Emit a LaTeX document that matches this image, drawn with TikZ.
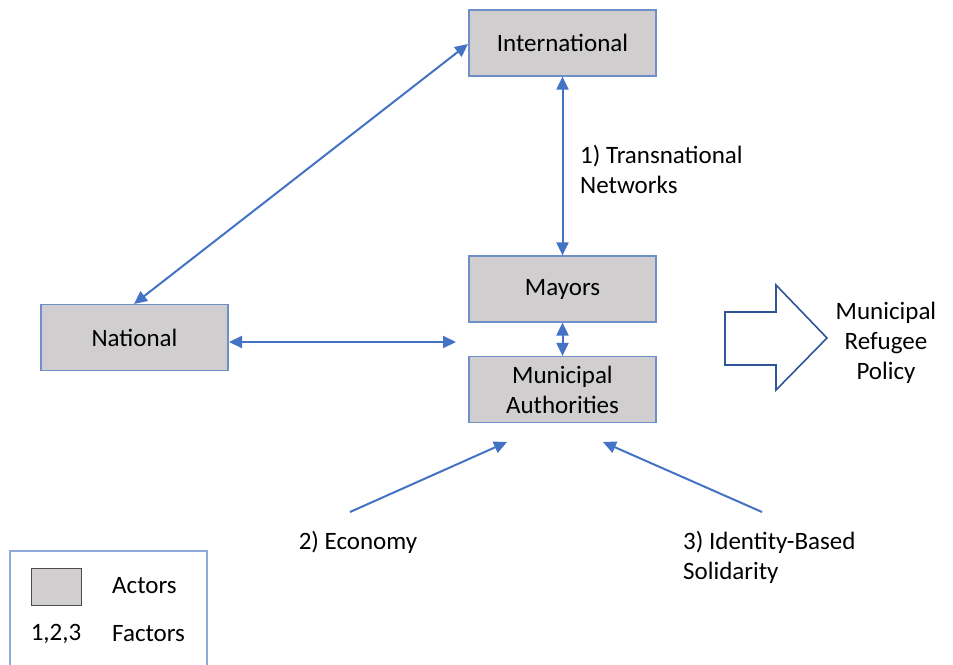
\documentclass[tikz,border=0pt]{standalone}
\usepackage{fontspec}
\setmainfont{Carlito}
\usetikzlibrary{arrows.meta}
\definecolor{arr}{HTML}{4472C4}
\definecolor{boxfill}{HTML}{D0CECE}
\definecolor{boxline}{HTML}{6F8FC9}
\definecolor{bigarr}{HTML}{2F5597}
\definecolor{legline}{HTML}{8FAADC}
\begin{document}
\begin{tikzpicture}[x=1pt,y=-1pt,
  actor/.style={draw=boxline,fill=boxfill,line width=1.2pt,minimum width=187pt,minimum height=66pt,inner sep=0pt,align=center,font=\fontsize{25}{30}\selectfont},
  lbl/.style={font=\fontsize{25}{30}\selectfont,inner sep=0pt},
  link/.style={draw=arr,line width=2pt,{Triangle[length=13pt,width=12pt]}-{Triangle[length=13pt,width=12pt]}},
  onelink/.style={draw=arr,line width=2pt,-{Triangle[length=13pt,width=12pt]}}]
\useasboundingbox (0,0) rectangle (953,664);
% actors
\node[actor] (intl) at (562.5,43) {International};
\node[actor] (may) at (562.5,289) {Mayors};
\node[actor] (muni) at (562.5,389.5) {Municipal\\Authorities};
\node[actor] (nat) at (134.5,337.5) {National};
% connectors
\coordinate (intlL) at (468,44);
\coordinate (natT) at (134,304);
\draw[link] (intlL) -- (natT);
\draw[link] (intl.south) -- (may.north);
\draw[link] (may.south) -- (muni.north);
\coordinate (natR) at (229,342);
\coordinate (muniL) at (456,342);
\draw[link] (natR) -- (muniL);
% factor labels
\node[lbl,align=left,anchor=west] (f1) at (580,169) {1) Transnational\\Networks};
\node[lbl] (f2) at (358,542) {2) Economy};
\node[lbl,align=left,anchor=west] (f3) at (683,557) {3) Identity-Based\\Solidarity};
\coordinate (e1) at (350,512);
\coordinate (e2) at (507,442);
\draw[onelink] (e1) -- (e2);
\coordinate (i1) at (762,512);
\coordinate (i2) at (603,442);
\draw[onelink] (i1) -- (i2);
% big arrow
\draw[bigarr,line width=1.6pt,line join=miter] (725,312) -- (776,312) -- (776,285) -- (827,338) -- (776,390) -- (776,365) -- (725,365) -- cycle;
\node[lbl,align=center] (pol) at (886,343) {Municipal\\Refugee\\Policy};
% legend
\draw[legline,line width=1.2pt] (10,680) -- (10,551) -- (207,551) -- (207,680);
\node[draw=black!70,fill=boxfill,line width=1pt,minimum width=50pt,minimum height=37pt,inner sep=0pt] (sw) at (56,586.5) {};
\node[lbl,anchor=west] (la) at (112,586) {Actors};
\node[lbl] (ln) at (56,634) {1,2,3};
\node[lbl,anchor=west] (lf) at (112,634) {Factors};
\end{tikzpicture}
\end{document}
